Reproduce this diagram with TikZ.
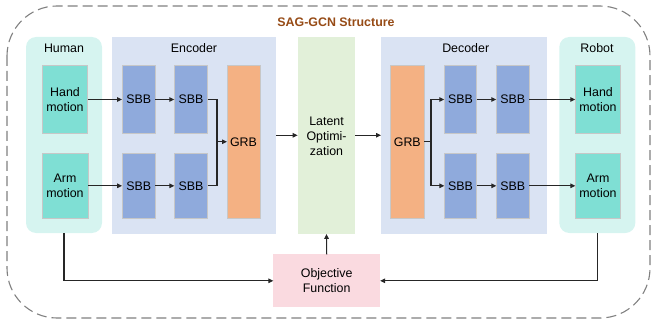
\documentclass[tikz,border=0pt]{standalone}
\usepackage{fontspec}
\setmainfont{Liberation Sans}
\usetikzlibrary{arrows.meta, calc, positioning}
\usepackage{xcolor}

\definecolor{humanbg}{HTML}{D6F4F0}
\definecolor{motioncol}{HTML}{7FDFD4}
\definecolor{codebg}{HTML}{DAE3F3}
\definecolor{sbbcol}{HTML}{8FAADC}
\definecolor{grbcol}{HTML}{F4B183}
\definecolor{latentbg}{HTML}{E2F0D9}
\definecolor{objcol}{HTML}{FADAE0}
\definecolor{titlecol}{RGB}{150,75,22}

\tikzset{
  panel/.style={inner sep=0pt, outer sep=0pt},
  block/.style={draw=black!22, line width=0.6pt, inner sep=0pt, outer sep=0pt, align=center},
  label/.style={anchor=base, inner sep=0pt},
  line/.style={line width=1.1pt, draw=black!85},
  arr/.style={line, -{Triangle[length=5pt,width=4.5pt]}}
}

\begin{document}
\begin{tikzpicture}[x=1pt, y=-1pt, font=\fontsize{12.4}{15}\selectfont]
    \useasboundingbox (0,0) rectangle (656,326);

    % 外框
    \draw[black!50, line width=1.1pt, dash pattern=on 10pt off 5pt, rounded corners=50pt]
        (7,6) rectangle (650,318);
    \node[label, titlecol, font=\fontsize{12.4}{15}\selectfont\bfseries] (title) at (336,26.7) {SAG-GCN Structure};

    % 背景区域
    \node[panel, fill=humanbg, rounded corners=10pt, minimum width=76pt, minimum height=196pt] (human) at (64,135) {};
    \node[panel, fill=codebg, minimum width=163.7pt, minimum height=197.3pt] (enc) at (194.2,135.3) {};
    \node[panel, fill=latentbg, minimum width=57.6pt, minimum height=197.3pt] (lat) at (326.5,135.3) {};
    \node[panel, fill=codebg, minimum width=166pt, minimum height=197.3pt] (dec) at (464,135.3) {};
    \node[panel, fill=humanbg, rounded corners=10pt, minimum width=76pt, minimum height=196pt] (robot) at (597.3,135) {};

    % 区域标题
    \node[label] (humanlbl) at (64,52.3) {Human};
    \node[label] (enclbl) at (194,52.3) {Encoder};
    \node[label] (declbl) at (465.7,52.3) {Decoder};
    \node[label] (robotlbl) at (597,52.3) {Robot};
    \node[align=center, inner sep=0pt] (lattxt) at (326.5,136.5) {Latent\\Optimi-\\zation};

    % 人体运动
    \node[block, fill=motioncol, minimum width=45pt, minimum height=68pt] (handH) at (65,99.5) {Hand\\motion};
    \node[block, fill=motioncol, minimum width=46pt, minimum height=65pt] (armH) at (65,185.8) {Arm\\motion};

    % 编码器
    \node[block, fill=sbbcol, minimum width=33.3pt, minimum height=68pt] (sbbA1) at (138.7,99.5) {SBB};
    \node[block, fill=sbbcol, minimum width=33.3pt, minimum height=68pt] (sbbA2) at (191,99.5) {SBB};
    \node[block, fill=sbbcol, minimum width=33.3pt, minimum height=65pt] (sbbB1) at (138.7,185.8) {SBB};
    \node[block, fill=sbbcol, minimum width=33.3pt, minimum height=65pt] (sbbB2) at (191,185.8) {SBB};
    \node[block, fill=grbcol, minimum width=33pt, minimum height=153pt] (grbE) at (243.5,141.8) {GRB};

    % 解码器
    \node[block, fill=grbcol, minimum width=34pt, minimum height=153pt] (grbD) at (407.3,141.8) {GRB};
    \node[block, fill=sbbcol, minimum width=32.4pt, minimum height=68pt] (sbbC1) at (460.5,99.5) {SBB};
    \node[block, fill=sbbcol, minimum width=33pt, minimum height=68pt] (sbbC2) at (512.8,99.5) {SBB};
    \node[block, fill=sbbcol, minimum width=32.4pt, minimum height=65pt] (sbbD1) at (460.5,185.8) {SBB};
    \node[block, fill=sbbcol, minimum width=33pt, minimum height=65pt] (sbbD2) at (512.8,185.8) {SBB};

    % 机器人运动
    \node[block, fill=motioncol, minimum width=45.4pt, minimum height=68pt] (handR) at (598,99.5) {Hand\\motion};
    \node[block, fill=motioncol, minimum width=45.4pt, minimum height=65pt] (armR) at (598,185.8) {Arm\\motion};

    % 目标函数
    \node[block, draw=none, fill=objcol, minimum width=106.7pt, minimum height=53pt] (obj) at (326.7,280.8) {Objective\\Function};

    % 编码器连线
    \coordinate (mE) at (217,141.8);
    \draw[arr] (handH) -- (sbbA1);
    \draw[arr] (sbbA1) -- (sbbA2);
    \draw[arr] (armH) -- (sbbB1);
    \draw[arr] (sbbB1) -- (sbbB2);
    \draw[line] (sbbA2.east) -| (mE);
    \draw[line] (sbbB2.east) -| (mE);
    \draw[arr] (mE) -- (grbE.west);

    % 潜空间连线
    \draw[arr] (enc.east) -- (lat.west);
    \draw[arr] (lat.east) -- (dec.west);

    % 解码器连线
    \coordinate (mD) at (431,141.8);
    \draw[line] (grbD.east) -- (mD);
    \draw[arr] (mD) |- (sbbC1.west);
    \draw[arr] (mD) |- (sbbD1.west);
    \draw[arr] (sbbC1) -- (sbbC2);
    \draw[arr] (sbbD1) -- (sbbD2);
    \draw[arr] (sbbC2) -- (handR);
    \draw[arr] (sbbD2) -- (armR);

    % 反馈回路
    \draw[arr] (human.south) |- (obj.west);
    \draw[arr] (robot.south) |- (obj.east);
    \draw[arr] (obj.north) -- (lat.south);
\end{tikzpicture}
\end{document}
